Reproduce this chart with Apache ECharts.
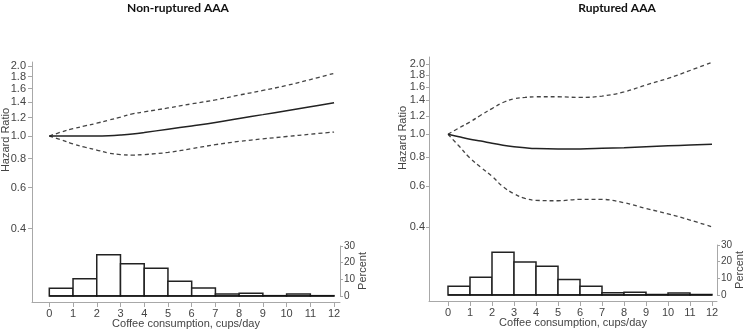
<!DOCTYPE html>
<html>
<head>
<meta charset="utf-8">
<script src="https://cdn.jsdelivr.net/npm/echarts@6/dist/echarts.min.js"></script>
<style>
  html, body { margin: 0; padding: 0; background: #fff; }
  #main { width: 748px; height: 330px; }
</style>
</head>
<body>
<div id="main"></div>
<script>
// coffee consumption (cups/day) where the curves are read
var cups = [0, 0.5, 1, 1.5, 2, 2.5, 3, 3.5, 4, 5, 6, 7, 8, 9, 10, 11, 12];

// non-ruptured AAA: hazard ratio and 95% CI
var hrNon    = [1.0, 1.0, 1.0, 1.0, 1.0, 1.003, 1.01, 1.02, 1.035, 1.07, 1.105, 1.143, 1.19, 1.236, 1.285, 1.336, 1.39];
var upperNon = [1.0, 1.04, 1.075, 1.105, 1.135, 1.17, 1.205, 1.245, 1.27, 1.32, 1.375, 1.43, 1.50, 1.57, 1.65, 1.75, 1.86];
var lowerNon = [1.0, 0.962, 0.925, 0.895, 0.87, 0.845, 0.832, 0.828, 0.832, 0.85, 0.882, 0.918, 0.948, 0.972, 0.995, 1.018, 1.04];

// ruptured AAA: hazard ratio and 95% CI
var hrRup    = [1.0, 0.975, 0.952, 0.935, 0.915, 0.898, 0.885, 0.875, 0.868, 0.864, 0.865, 0.87, 0.876, 0.884, 0.892, 0.899, 0.906];
var upperRup = [1.0, 1.065, 1.13, 1.21, 1.29, 1.37, 1.42, 1.44, 1.45, 1.45, 1.44, 1.46, 1.52, 1.63, 1.74, 1.88, 2.04];
var lowerRup = [1.0, 0.89, 0.79, 0.72, 0.66, 0.595, 0.555, 0.53, 0.52, 0.518, 0.525, 0.525, 0.508, 0.48, 0.455, 0.428, 0.40];

// histogram of coffee consumption (percent per 1-cup bin)
var binEdges = [0, 1, 2, 3, 4, 5, 6, 7, 8, 9, 10, 11, 12];
var pctNon = [4.6, 10.4, 24.7, 19.3, 16.6, 8.8, 4.8, 1.2, 1.6, 0.2, 1.2, 0.2];
var pctRup = [5.3, 10.7, 25.6, 19.8, 17.2, 9.3, 5.3, 1.4, 1.6, 0.3, 1.2, 0.3];

// tick labels (the top one sits on its own axis so it is not dropped as overlapping)
var hrTicks = [0.4, 0.6, 0.8, 1.0, 1.2, 1.4, 1.6, 1.8];
var hrTopTick = [2.0];
var cupTicks = [0, 1, 2, 3, 4, 5, 6, 7, 8, 9, 10, 11, 12];
var pctTicks = [0, 10, 20, 30];

var axisColor = '#a8a8a8';
var textColor = '#444';
var font = "'Liberation Sans', Arial, sans-serif";

var chart = echarts.init(document.getElementById('main'));

var logPairs = function (ys) {
    return cups.map(function (c, i) { return [c, Math.log(ys[i])]; });
};
var histData = function (pct) {
    return pct.map(function (p, i) { return [binEdges[i], binEdges[i + 1], p]; });
};
var hrLabel = function (v) { return Math.exp(v).toFixed(1); };

var panels = [
    { left: 32, top: 62, width: 308, height: 240, ymin: -1.644, ymax: 0.733, xmin: -0.729, xmax: 12.25,
      tickLen: 4, labelGap: 6,
      histTop: 246, histHeight: 50, hr: hrNon, up: upperNon, lo: lowerNon, pct: pctNon },
    { left: 429, top: 57, width: 288, height: 244, ymin: -1.650, ymax: 0.765, xmin: -0.864, xmax: 12.227,
      tickLen: 3, labelGap: 4,
      histTop: 245, histHeight: 50, hr: hrRup, up: upperRup, lo: lowerRup, pct: pctRup }
];

var grids = [], xAxes = [], yAxes = [], series = [];

panels.forEach(function (p, k) {
    var gHr = k * 2, gHist = k * 2 + 1;
    var yHr = k * 3, yHist = k * 3 + 2;
    grids.push({ left: p.left, top: p.top, width: p.width, height: p.height, outerBoundsMode: 'none' });
    grids.push({ left: p.left, top: p.histTop, width: p.width, height: p.histHeight, outerBoundsMode: 'none' });

    xAxes.push({
        gridIndex: gHr, type: 'value', min: p.xmin, max: p.xmax,
        name: 'Coffee consumption, cups/day', nameLocation: 'middle', nameGap: 16, nameMoveOverlap: false,
        nameTextStyle: { color: textColor, fontSize: 11, fontFamily: font },
        axisLine: { show: true, onZero: false, lineStyle: { color: axisColor } },
        axisTick: { show: true, length: 5, customValues: cupTicks, lineStyle: { color: axisColor } },
        axisLabel: { customValues: cupTicks, margin: 6, hideOverlap: false,
            color: textColor, fontSize: 11, fontFamily: font },
        splitLine: { show: false }
    });
    xAxes.push({ gridIndex: gHist, type: 'value', min: p.xmin, max: p.xmax, show: false });

    yAxes.push({
        gridIndex: gHr, type: 'value', position: 'left', min: p.ymin, max: p.ymax,
        axisLine: { show: true, onZero: false, lineStyle: { color: axisColor } },
        axisTick: { show: true, length: p.tickLen, customValues: hrTicks.concat(hrTopTick).map(Math.log), lineStyle: { color: axisColor } },
        axisLabel: {
            customValues: hrTicks.map(Math.log), margin: p.labelGap, hideOverlap: false,
            color: textColor, fontSize: 11, fontFamily: font, formatter: hrLabel
        },
        splitLine: { show: false }
    });
    yAxes.push({
        gridIndex: gHr, type: 'value', position: 'left', min: p.ymin, max: p.ymax,
        axisLine: { show: false, onZero: false }, axisTick: { show: false },
        axisLabel: {
            customValues: hrTopTick.map(Math.log), margin: p.labelGap, hideOverlap: false,
            color: textColor, fontSize: 11, fontFamily: font, formatter: hrLabel
        },
        splitLine: { show: false }
    });
    yAxes.push({
        gridIndex: gHist, type: 'value', position: 'right', min: 0, max: 30,
        name: 'Percent', nameLocation: 'middle', nameRotate: 90, nameGap: 17, nameMoveOverlap: false,
        nameTextStyle: { color: textColor, fontSize: 11, fontFamily: font },
        axisLine: { show: true, onZero: false, lineStyle: { color: axisColor } },
        axisTick: { show: true, length: 3, customValues: pctTicks, lineStyle: { color: axisColor } },
        axisLabel: { customValues: pctTicks, margin: 4, hideOverlap: false,
            color: textColor, fontSize: 10, fontFamily: font },
        splitLine: { show: false }
    });

    // histogram bars
    series.push({
        type: 'custom', xAxisIndex: gHist, yAxisIndex: yHist, silent: true,
        data: histData(p.pct),
        renderItem: function (params, api) {
            var a = api.coord([api.value(0), api.value(2)]);
            var b = api.coord([api.value(1), 0]);
            return {
                type: 'rect',
                shape: { x: a[0], y: a[1], width: b[0] - a[0], height: b[1] - a[1] },
                style: { fill: '#fff', stroke: '#222', lineWidth: 1.5 }
            };
        }
    });
    // histogram baseline
    series.push({
        type: 'line', xAxisIndex: gHist, yAxisIndex: yHist, symbol: 'none', silent: true,
        data: [[binEdges[0], 0], [binEdges[binEdges.length - 1], 0]],
        lineStyle: { color: '#111', width: 1.6 }
    });

    // hazard ratio curves (log scale)
    series.push({
        type: 'line', xAxisIndex: gHr, yAxisIndex: yHr, symbol: 'none', smooth: 0.4,
        data: logPairs(p.up), lineStyle: { color: '#444', width: 1.3, type: [4, 3] }
    });
    series.push({
        type: 'line', xAxisIndex: gHr, yAxisIndex: yHr, symbol: 'none', smooth: 0.4,
        data: logPairs(p.lo), lineStyle: { color: '#444', width: 1.3, type: [4, 3] }
    });
    series.push({
        type: 'line', xAxisIndex: gHr, yAxisIndex: yHr, symbol: 'none', smooth: 0.4,
        data: logPairs(p.hr), lineStyle: { color: '#222', width: 1.5 }
    });
});

chart.setOption({
    animation: false,
    backgroundColor: '#fff',
    grid: grids,
    xAxis: xAxes,
    yAxis: yAxes,
    series: series,
    graphic: [
        { type: 'text', x: 178, y: 8, style: { text: 'Non-ruptured AAA', font: 'bold 12px Lato, sans-serif', fill: '#111', textAlign: 'center', textVerticalAlign: 'middle' } },
        { type: 'text', x: 617, y: 8, style: { text: 'Ruptured AAA', font: 'bold 12px Lato, sans-serif', fill: '#111', textAlign: 'center', textVerticalAlign: 'middle' } },
        { type: 'text', x: 6, y: 140, rotation: Math.PI / 2, style: { text: 'Hazard Ratio', font: "11px 'Liberation Sans', Arial, sans-serif", fill: textColor, textAlign: 'center', textVerticalAlign: 'middle' } },
        { type: 'text', x: 403, y: 138, rotation: Math.PI / 2, style: { text: 'Hazard Ratio', font: "11px 'Liberation Sans', Arial, sans-serif", fill: textColor, textAlign: 'center', textVerticalAlign: 'middle' } }
    ]
});
</script>
</body>
</html>
